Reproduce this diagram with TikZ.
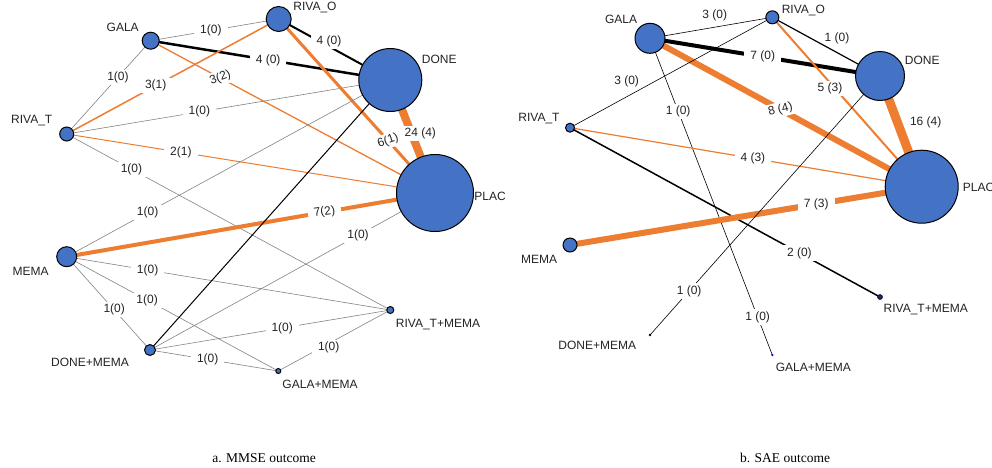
\documentclass[tikz,border=0pt]{standalone}
\usepackage{fontspec}
\setmainfont{Liberation Serif}
\newfontfamily\lbfont{Liberation Sans}
\usetikzlibrary{backgrounds}
\definecolor{nodeblue}{RGB}{68,114,196}
\definecolor{edgeorange}{RGB}{237,125,49}
\definecolor{edgegray}{RGB}{130,130,130}
\definecolor{txtgray}{RGB}{35,35,35}
\definecolor{navydot}{RGB}{20,40,110}

\begin{document}
\begin{tikzpicture}[
        x=1pt, y=-1pt,
        trt/.style={circle, draw=black, fill=nodeblue, line width=1pt, inner sep=0pt},
        smalldot/.style={circle, inner sep=0pt, minimum size=2.6pt},
        trtname/.style={font=\lbfont\fontsize{12}{14}\selectfont, text=txtgray, inner sep=0pt},
        lbl/.style={font=\lbfont\fontsize{12}{14}\selectfont, text=txtgray, fill=white,
            inner xsep=6pt, inner ysep=2pt},
        gline/.style={draw=edgegray, line width=0.6pt},
        bline/.style={draw=black, line width=#1},
        oline/.style={draw=edgeorange, line width=#1}
    ]
    \useasboundingbox (0,0) rectangle (992,467);

    % a. MMSE network
    \node[trt, minimum size=17pt] (ga) at (150.7,40.7) {};
    \node[trt, minimum size=14pt] (rt) at (66.7,134) {};
    \node[trt, minimum size=25pt] (ro) at (278.7,19) {};
    \node[trt, minimum size=63pt] (dn) at (390.3,80) {};
    \node[trt, minimum size=77pt] (pl) at (435,193) {};
    \node[trt, minimum size=20pt] (me) at (66.7,256.7) {};
    \node[trt, minimum size=11pt] (dm) at (150,350) {};
    \node[trt, minimum size=7pt] (rm) at (390.3,310) {};
    \node[trt, minimum size=5pt] (gm) at (278.3,371) {};

    \node[trtname] (ga-n) at (122.7,27.3) {GALA};
    \node[trtname] (rt-n) at (31.7,121) {RIVA\_T};
    \node[trtname] (ro-n) at (315,7.3) {RIVA\_O};
    \node[trtname] (dn-n) at (439.3,59.3) {DONE};
    \node[trtname] (pl-n) at (490,196) {PLAC};
    \node[trtname] (me-n) at (30.7,271) {MEMA};
    \node[trtname] (dm-n) at (90,362.7) {DONE+MEMA};
    \node[trtname] (rm-n) at (438,324.3) {RIVA\_T+MEMA};
    \node[trtname] (gm-n) at (320,384) {GALA+MEMA};

    \begin{scope}[on background layer]
        \draw[gline] (ga.center) -- node[lbl, pos=.47] {1(0)} (ro.center);
        \draw[bline=2.5pt] (ga.center) -- node[lbl, pos=.49] {4 (0)} (dn.center);
        \draw[oline=1.3pt] (ga.center) -- node[lbl, pos=.245, rotate=20] {3(2)} (pl.center);
        \draw[gline] (ga.center) -- node[lbl, pos=.39] {1(0)} (rt.center);
        \draw[oline=1.5pt] (rt.center) -- node[lbl, pos=.42] {3(1)} (ro.center);
        \draw[gline] (rt.center) -- node[lbl, pos=.41] {1(0)} (dn.center);
        \draw[oline=1pt] (rt.center) -- node[lbl, pos=.31] {2(1)} (pl.center);
        \draw[gline] (rt.center) -- node[lbl, pos=.2] {1(0)} (rm.center);
        \draw[bline=2pt] (ro.center) -- node[lbl, pos=.45, yshift=5pt] {4 (0)} (dn.center);
        \draw[oline=3pt] (ro.center) -- node[lbl, pos=.7, rotate=20] {6(1)} (pl.center);
        \draw[oline=8pt] (dn.center) -- node[lbl, inner xsep=2pt, pos=.47, xshift=9pt] {24 (4)} (pl.center);
        \draw[oline=4pt] (me.center) -- node[lbl, pos=.7, rotate=8] {7(2)} (pl.center);
        \draw[gline] (me.center) -- node[lbl, pos=.25] {1(0)} (dn.center);
        \draw[gline] (me.center) -- node[lbl, pos=.25] {1(0)} (rm.center);
        \draw[gline] (me.center) -- node[lbl, pos=.38] {1(0)} (gm.center);
        \draw[gline] (me.center) -- node[lbl, pos=.57] {1(0)} (dm.center);
        \draw[bline=1pt] (dm.center) -- (dn.center);
        \draw[gline] (dm.center) -- node[lbl, pos=.73] {1(0)} (pl.center);
        \draw[gline] (dm.center) -- node[lbl, pos=.55] {1(0)} (rm.center);
        \draw[gline] (dm.center) -- node[lbl, pos=.45] {1(0)} (gm.center);
        \draw[gline] (gm.center) -- node[lbl, pos=.45, yshift=-4pt] {1(0)} (rm.center);
    \end{scope}

    % b. SAE network
    \node[trt, minimum size=30pt] (bga) at (650,38.3) {};
    \node[trt, minimum size=9pt] (brt) at (570,127.7) {};
    \node[trt, minimum size=13pt] (bro) at (772.3,17.3) {};
    \node[trt, minimum size=49pt] (bdn) at (880,76) {};
    \node[trt, minimum size=73pt] (bpl) at (921.7,186.7) {};
    \node[trt, minimum size=14pt] (bme) at (570,245) {};
    \node[smalldot, fill=black] (bdm) at (650,335) {};
    \node[trt, fill=navydot, line width=0.5pt, minimum size=5pt] (brm) at (880,297) {};
    \node[smalldot, fill=blue!80!black] (bgm) at (772.3,355) {};

    \node[trtname] (bga-n) at (621,19.3) {GALA};
    \node[trtname] (brt-n) at (539,119) {RIVA\_T};
    \node[trtname] (bro-n) at (803.3,10) {RIVA\_O};
    \node[trtname] (bdn-n) at (922.3,60) {DONE};
    \node[trtname, anchor=west] (bpl-n) at (962.7,187.7) {PLAC};
    \node[trtname] (bme-n) at (539,259) {MEMA};
    \node[trtname] (bdm-n) at (597.3,345.7) {DONE+MEMA};
    \node[trtname] (brm-n) at (925.7,309.3) {RIVA\_T+MEMA};
    \node[trtname] (bgm-n) at (813.3,367.3) {GALA+MEMA};

    \begin{scope}[on background layer]
        \draw[bline=.6pt] (bga.center) -- node[lbl, fill=none, pos=.53, yshift=12pt] {3 (0)} (bro.center);
        \draw[bline=4pt] (bga.center) -- node[lbl, pos=.49] {7 (0)} (bdn.center);
        \draw[oline=6pt] (bga.center) -- node[lbl, pos=.48, rotate=15] {8 (4)} (bpl.center);
        \draw[bline=.6pt] (bga.center) -- node[lbl, pos=.23] {1 (0)} node[lbl, pos=.88] {1 (0)} (bgm.center);
        \draw[bline=.6pt] (brt.center) -- node[lbl, fill=none, pos=.28, yshift=15pt] {3 (0)} (bro.center);
        \draw[oline=1.2pt] (brt.center) -- node[lbl, pos=.52] {4 (3)} (bpl.center);
        \draw[bline=1.5pt] (brt.center) -- node[lbl, pos=.74] {2 (0)} (brm.center);
        \draw[bline=1.2pt] (bro.center) -- node[lbl, fill=none, pos=.6, yshift=14pt] {1 (0)} (bdn.center);
        \draw[oline=2pt] (bro.center) -- node[lbl, pos=.42, xshift=-5pt] {5 (3)} (bpl.center);
        \draw[oline=9pt] (bdn.center) -- node[lbl, fill=none, inner xsep=0pt, pos=.42, right=8pt] {16 (4)} (bpl.center);
        \draw[oline=6pt] (bme.center) -- node[lbl, pos=.7] {7 (3)} (bpl.center);
        \draw[bline=.6pt] (bdn.center) -- node[lbl, pos=.83] {1 (0)} (bdm.center);
    \end{scope}

    % captions
    \node[font=\fontsize{13.5}{16}\selectfont] (cap-a) at (264,458) {a. MMSE outcome};
    \node[font=\fontsize{13.5}{16}\selectfont] (cap-b) at (785,458) {b. SAE outcome};
\end{tikzpicture}
\end{document}
